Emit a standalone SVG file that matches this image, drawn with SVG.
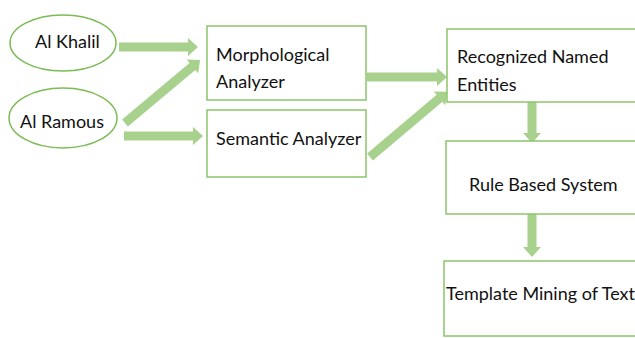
<svg xmlns="http://www.w3.org/2000/svg" width="635" height="338" viewBox="0 0 635 338">
<defs>
<style>
.node{fill:#fff;stroke:#8cc56a;stroke-width:1.5}
.ell{fill:#fff;stroke:#7cbb55;stroke-width:1.5}
.t{font-family:Lato,"Liberation Sans",Arial,sans-serif;font-size:18px;fill:#111}
.arr{fill:#a9d18e}
</style>
</defs>
<rect width="635" height="338" fill="#fff"/>
<g id="connectors">
<path class="arr" d="M0,-4.5H69V-9L79,0L69,9V4.5H0Z" transform="translate(119,47)"/>
<path class="arr" d="M0,-4.5H88V-9L98,0L88,9V4.5H0Z" transform="translate(125,123) rotate(-40)"/>
<path class="arr" d="M0,-4.5H69V-9L79,0L69,9V4.5H0Z" transform="translate(124,136)"/>
<path class="arr" d="M0,-4.5H70V-9L80,0L70,9V4.5H0Z" transform="translate(367,77)"/>
<path class="arr" d="M0,-4.5H91V-9L101,0L91,9V4.5H0Z" transform="translate(370,157) rotate(-40.2)"/>
<path class="arr" d="M0,-4.5H31V-9L41,0L31,9V4.5H0Z" transform="translate(532,102) rotate(90)"/>
<path class="arr" d="M0,-4.5H33V-9L43,0L33,9V4.5H0Z" transform="translate(532,214) rotate(90)"/>
</g>
<g id="al-khalil"><ellipse class="ell" cx="63" cy="43" rx="53" ry="28"/><text class="t" x="35" y="48">Al Khalil</text></g>
<g id="al-ramous"><ellipse class="ell" cx="63" cy="118" rx="54" ry="30"/><text class="t" x="20" y="128">Al Ramous</text></g>
<g id="morphological"><rect class="node" x="207" y="26" width="159" height="74"/><text class="t" x="216" y="61">Morphological</text><text class="t" x="216" y="88">Analyzer</text></g>
<g id="semantic"><rect class="node" x="207" y="110" width="159" height="67"/><text class="t" x="216" y="145">Semantic Analyzer</text></g>
<g id="recognized"><rect class="node" x="447" y="29" width="195" height="73"/><text class="t" x="457" y="63">Recognized Named</text><text class="t" x="457" y="91">Entities</text></g>
<g id="rule"><rect class="node" x="446" y="141" width="196" height="73"/><text class="t" x="469" y="191">Rule Based System</text></g>
<g id="template"><rect class="node" x="444" y="261" width="198" height="75"/><text class="t" x="446" y="300">Template Mining of Text</text></g>
</svg>
